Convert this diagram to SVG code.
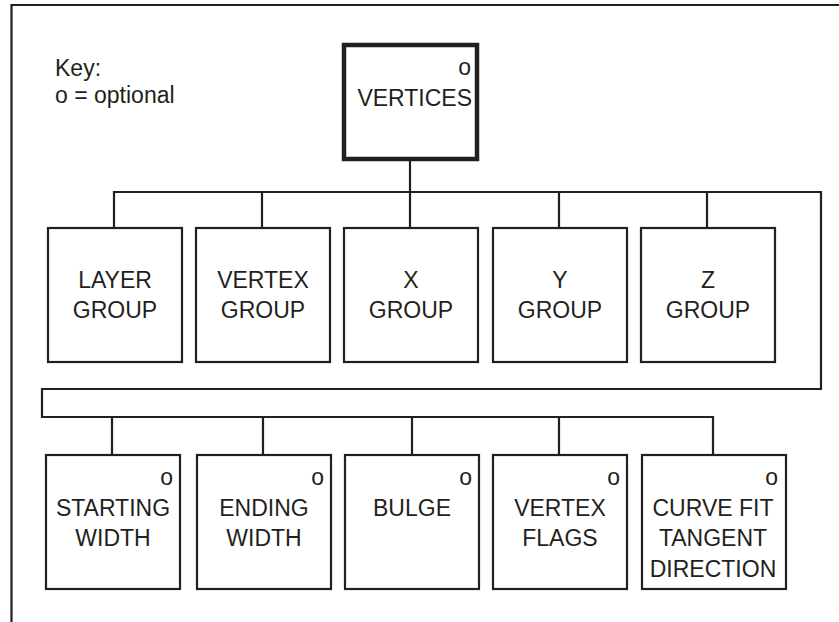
<svg xmlns="http://www.w3.org/2000/svg" width="839" height="622" viewBox="0 0 839 622">
<style>
  .box { fill: #fff; stroke: #231f20; stroke-width: 2.2; }
  .root { fill: #fff; stroke: #231f20; stroke-width: 4.5; }
  .wire { fill: none; stroke: #231f20; stroke-width: 2.2; }
  text { font-family: "Liberation Sans", Arial, sans-serif; font-size: 23px; fill: #231f20; }
  .c { text-anchor: middle; }
  .e { text-anchor: end; }
</style>
<rect width="839" height="622" fill="#fff"/>
<path class="wire" d="M11.5,622 V5 H839"/>
<g id="key">
  <text x="55" y="76">Key:</text>
  <text x="55" y="103">o = optional</text>
</g>
<g id="connectors">
  <path class="wire" d="M410,161 V192"/>
  <path class="wire" d="M114,227 V192 H821 V389 H42 V417 H713 V454"/>
  <path class="wire" d="M262,192 V227 M410,192 V227 M559,192 V227 M707,192 V227"/>
  <path class="wire" d="M112,417 V454 M263,417 V454 M412,417 V454 M559,417 V454"/>
</g>
<g id="vertices">
  <rect class="root" x="344" y="45" width="133" height="114"/>
  <text class="e" x="471" y="75">o</text>
  <text class="e" x="472" y="106">VERTICES</text>
</g>
<g id="layer-group">
  <rect class="box" x="48" y="228" width="134" height="134"/>
  <text class="c" x="115" y="288">LAYER</text>
  <text class="c" x="115" y="318">GROUP</text>
</g>
<g id="vertex-group">
  <rect class="box" x="196" y="228" width="134" height="134"/>
  <text class="c" x="263" y="288">VERTEX</text>
  <text class="c" x="263" y="318">GROUP</text>
</g>
<g id="x-group">
  <rect class="box" x="344" y="228" width="134" height="134"/>
  <text class="c" x="411" y="288">X</text>
  <text class="c" x="411" y="318">GROUP</text>
</g>
<g id="y-group">
  <rect class="box" x="493" y="228" width="134" height="134"/>
  <text class="c" x="560" y="288">Y</text>
  <text class="c" x="560" y="318">GROUP</text>
</g>
<g id="z-group">
  <rect class="box" x="641" y="228" width="134" height="134"/>
  <text class="c" x="708" y="288">Z</text>
  <text class="c" x="708" y="318">GROUP</text>
</g>
<g id="starting-width">
  <rect class="box" x="46" y="455" width="134" height="134"/>
  <text class="e" x="173" y="485">o</text>
  <text class="c" x="113" y="516">STARTING</text>
  <text class="c" x="113" y="546">WIDTH</text>
</g>
<g id="ending-width">
  <rect class="box" x="197" y="455" width="134" height="134"/>
  <text class="e" x="324" y="485">o</text>
  <text class="c" x="264" y="516">ENDING</text>
  <text class="c" x="264" y="546">WIDTH</text>
</g>
<g id="bulge">
  <rect class="box" x="345" y="455" width="134" height="134"/>
  <text class="e" x="472" y="485">o</text>
  <text class="c" x="412" y="516">BULGE</text>
</g>
<g id="vertex-flags">
  <rect class="box" x="493" y="455" width="134" height="134"/>
  <text class="e" x="620" y="485">o</text>
  <text class="c" x="560" y="516">VERTEX</text>
  <text class="c" x="560" y="546">FLAGS</text>
</g>
<g id="curve-fit">
  <rect class="box" x="642" y="455" width="144" height="134"/>
  <text class="e" x="778" y="485">o</text>
  <text class="c" x="713" y="516">CURVE FIT</text>
  <text class="c" x="713" y="546">TANGENT</text>
  <text class="c" x="713" y="577">DIRECTION</text>
</g>
</svg>
